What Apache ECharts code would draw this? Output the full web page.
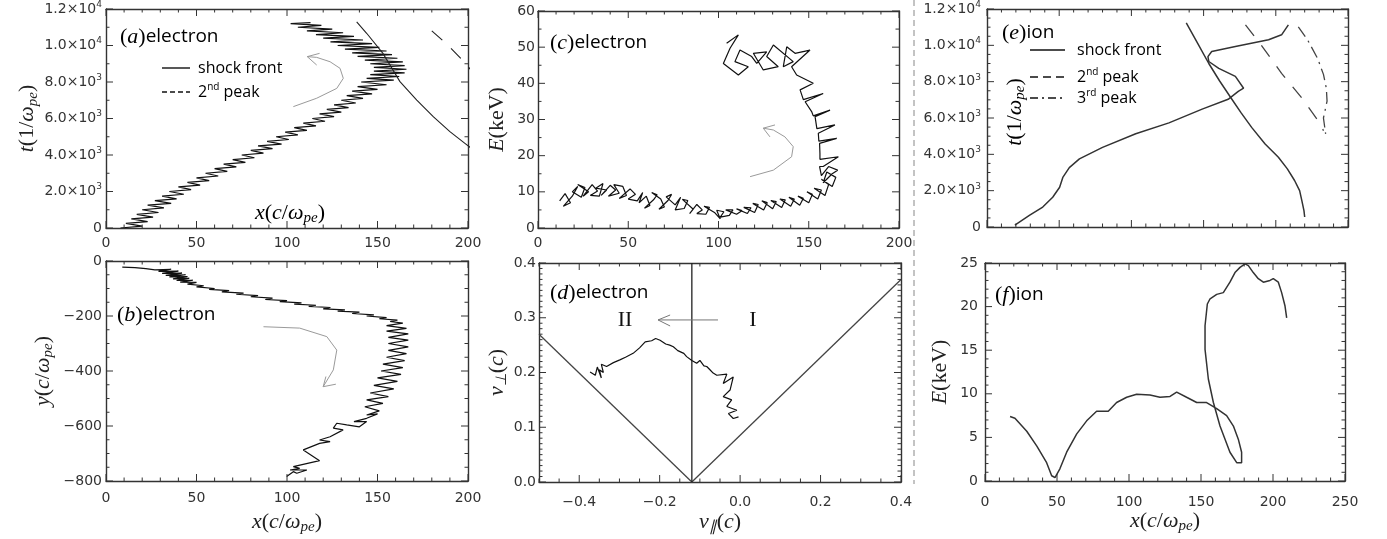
<!DOCTYPE html>
<html><head><meta charset="utf-8">
<script src="https://cdn.jsdelivr.net/npm/echarts@6/dist/echarts.min.js"></script>
<style>html,body{margin:0;padding:0;background:#fff}#c{width:1387px;height:539px}</style>
</head><body><div id="c"></div>
<script>
// ---------------- data ----------------
const electronA = [[8,0],[20,100],[11,250],[23,350],[14,500],[26,600],[17,750],[29,850],[20,1000],[32,1100],[23,1250],[36,1350],[27,1500],[39,1600],[31,1750],[43,1850],[35,2000],[47,2100],[40,2250],[52,2350],[45,2500],[57,2600],[50,2750],[62,2850],[55,3000],[67,3100],[60,3250],[72,3350],[65,3500],[77,3600],[70,3750],[82,3850],[75,4000],[87,4100],[80,4250],[92,4350],[84,4500],[97,4600],[89,4750],[101,4850],[94,5000],[106,5100],[99,5250],[111,5350],[104,5500],[116,5600],[109,5750],[121,5850],[114,6000],[126,6100],[118,6250],[130,6350],[122,6500],[134,6600],[126,6750],[138,6850],[130,7000],[142,7100],[133,7250],[147,7350],[136,7500],[150,7600],[139,7750],[155,7850],[141,8000],[159,8100],[144,8200],[162,8300],[146,8400],[165,8500],[148,8600],[166,8700],[148,8800],[165,8900],[146,9000],[164,9100],[143,9200],[161,9300],[139,9400],[158,9500],[136,9600],[155,9700],[132,9800],[151,9900],[128,10000],[147,10100],[124,10200],[142,10300],[120,10400],[137,10500],[116,10600],[131,10700],[111,10800],[125,10900],[106,11000],[119,11100],[102,11200],[113,11250]];
const shockA = [[138.5,11300],[144,10670],[153,9570],[162.4,8020],[171.7,7010],[180.8,6100],[190,5280],[198.3,4640],[204,4200]];
const peak2A = [[180,10800],[188,10100],[196,9300],[203,8500]];
const arrowA = [[103.5,6650],[116.4,7110],[127.5,7650],[131.1,8200],[129.3,8750],[123.8,9110],[116.4,9350],[111.2,9390]];
const arrowHeadA = [[118,9570],[111.2,9390],[116.4,8930]];

const electronB = [[9,-22],[16,-24],[22,-28],[27,-32],[36,-30],[29,-38],[40,-37],[31,-45],[42,-44],[33,-52],[44,-50],[35,-58],[45,-57],[37,-65],[46,-63],[39,-71],[48,-70],[41,-77],[50,-78],[45,-84],[54,-90],[50,-94],[60,-100],[57,-103],[68,-108],[64,-112],[76,-117],[72,-121],[84,-126],[80,-130],[92,-135],[88,-140],[100,-144],[96,-148],[108,-152],[104,-157],[116,-161],[112,-165],[124,-169],[120,-174],[132,-178],[128,-182],[140,-186],[136,-191],[148,-196],[144,-200],[155,-206],[151,-210],[161,-215],[157,-220],[164,-226],[155,-235],[166,-245],[155,-255],[167,-265],[156,-278],[167,-288],[156,-300],[167,-312],[156,-325],[166,-337],[155,-350],[165,-362],[153,-375],[164,-388],[152,-400],[163,-412],[150,-425],[161,-438],[148,-452],[159,-465],[146,-480],[156,-493],[144,-505],[153,-518],[143,-530],[151,-545],[144,-560],[150,-556],[144,-572],[137,-584],[144,-584],[140,-603],[133,-596],[127.5,-590],[125.6,-608],[131,-614],[123.8,-639],[118,-651],[123.8,-657],[118,-663],[109,-687],[118,-726],[103.5,-748],[107,-754],[101.7,-760],[111,-760],[105.4,-772],[103.5,-766],[99.8,-784]];
const arrowB = [[87,-239],[107,-244],[122,-275],[127.5,-324],[125.6,-396],[120,-457]];
const arrowHeadB = [[121.5,-420],[120,-457],[127,-448]];

const electronC = [[12,7.5],[15,9.5],[18,7],[14,6],[19,8.8],[22,11.5],[19,10],[24,8.5],[26,11.2],[22,12],[28,10],[25,8.8],[30,12],[33,10.2],[29,9],[34,8.8],[36,12.3],[32,11],[38,10.5],[35,9],[40,11.8],[43,10.5],[39,8.8],[45,9.6],[42,12],[47,11.5],[49,9],[45,8.2],[51,10.8],[54,9.3],[50,8],[55,7.5],[58,9.8],[56,7],[60,8.8],[62,6.2],[59,5.5],[64,7.8],[66,9.2],[63,9.8],[68,8],[70,5.8],[67,5.2],[72,7.6],[74,9.3],[71,8.6],[76,6.4],[79,8.5],[76,5],[81,5.4],[83,7.6],[80,7.9],[86,5.2],[84,4],[88,6.5],[91,5],[88,4],[93,3.8],[95,5.7],[92,6],[98,4.2],[101,2.5],[99,4.9],[103,4.5],[101,3],[106,3.5],[108,5],[104,5],[110,3.8],[113,4.8],[110,5.3],[116,4],[118,5.6],[114,5.7],[120,4.3],[122,6.5],[119,6.8],[125,5],[127,7],[124,7.5],[130,5.3],[132,7.3],[129,7.6],[135,5.7],[137,7.8],[134,8],[140,6],[142,8],[139,8.5],[145,6.3],[147,8.2],[144,8.8],[150,7],[152,9.3],[149,10],[155,8],[157,10.5],[153,11],[159,9],[161,12],[157,13.5],[163,11.5],[165,14],[160,15.5],[158,12.5],[163,15],[166,16],[161,17],[157,14.5],[156,17],[158,17],[166.4,19.7],[156.2,19],[156.2,20.6],[156,23.4],[165.5,24.8],[155.6,24],[155.3,26.2],[164.5,28.5],[154.5,27.5],[153.5,30.8],[161.8,32.6],[152.5,31],[151.6,32.2],[148,34.9],[158,37.2],[147,35.5],[145.2,38.2],[152.5,40],[143.3,42.3],[140.5,44.6],[150.7,49.2],[142.4,48.3],[137.8,50.1],[135.9,44.6],[141.4,46.0],[130.4,50.6],[126.7,47.4],[133.1,44.6],[124.8,43.7],[119.3,48.3],[126.7,48.7],[121.2,45.5],[118.4,47.4],[111.9,49.2],[109.1,46.0],[116.5,44.6],[111,42.3],[102.7,45.5],[106.4,49.7],[111,53.4],[104.5,51.1]];
const arrowC = [[117.5,14.2],[130.4,16],[140.5,19.7],[141.4,22.5],[136.8,25.2],[130.4,27.1],[124.8,27.6]];
const arrowHeadC = [[131.3,28.5],[124.8,27.6],[128.5,25.2]];

const coneLeft = [[-0.5,0.27],[-0.12,0]];
const coneRight = [[-0.12,0],[0.4,0.37]];
const shockD = [[-0.12,0],[-0.12,0.4]];
const electronD = [[-0.373,0.201],[-0.36,0.195],[-0.355,0.21],[-0.345,0.19],[-0.35,0.205],[-0.34,0.2],[-0.345,0.215],[-0.332,0.211],[-0.315,0.218],[-0.299,0.223],[-0.285,0.228],[-0.266,0.235],[-0.25,0.245],[-0.236,0.256],[-0.22,0.258],[-0.21,0.262],[-0.199,0.259],[-0.185,0.252],[-0.175,0.25],[-0.166,0.247],[-0.155,0.24],[-0.14,0.235],[-0.133,0.229],[-0.12,0.222],[-0.108,0.217],[-0.1,0.222],[-0.09,0.212],[-0.083,0.211],[-0.075,0.205],[-0.067,0.199],[-0.058,0.195],[-0.033,0.197],[-0.042,0.18],[-0.017,0.192],[-0.025,0.168],[-0.042,0.156],[-0.021,0.15],[-0.033,0.138],[-0.008,0.131],[-0.029,0.125],[-0.017,0.116],[-0.004,0.119]];
const arrowD = [[-0.055,0.296],[-0.204,0.296]];
const arrowHeadD = [[-0.174,0.305],[-0.204,0.296],[-0.174,0.285]];

const ionE = [[19.3,110],[29.6,650],[38.6,1100],[45.5,1640],[50.3,2190],[52.5,2730],[57,3270],[64,3750],[80,4380],[103,5130],[126,5730],[149,6490],[167,7030],[174,7470],[177.7,7640],[172,8290],[160.5,8730],[153.6,9110],[153,9380],[155.6,9660],[172,9930],[195,10310],[204,10580],[208.7,11130]];
const shockE = [[138,11240],[146,10100],[153.6,9000],[161,8050],[169,7100],[176,6280],[183.4,5470],[192.6,4565],[201.8,3835],[208,3200],[213,2560],[216.5,2000],[218,1470],[219.5,900],[220,550]];
const peak2E = [[179,11130],[190,10000],[204,8460],[218,7100],[231,5670],[233,5300]];
const peak3E = [[215.6,11020],[222,10300],[229,9270],[233,8400],[235,7640],[235.5,6930],[233,6000],[234.5,5130]];

const ionF = [[17.4,7.4],[20.8,7.2],[29,5.7],[36,4.0],[42.8,2.1],[46.3,0.6],[48.6,0.4],[52,1.4],[56.7,3.3],[63.7,5.4],[70.6,6.9],[77.5,8.0],[85.6,8.0],[91.4,9.0],[98.4,9.6],[105.3,9.95],[114.6,9.86],[121.5,9.6],[128.5,9.7],[133.1,10.2],[140,9.6],[147,9.0],[153.9,9.0],[160.9,8.3],[167.8,7.5],[172.5,6.3],[175.9,4.8],[178.2,3.3],[178.2,2.1],[174.8,2.1],[170.1,3.3],[163.2,6.3],[158.6,9.0],[155.1,11.7],[152.8,15.1],[152.8,17.8],[154.4,20.3],[156.3,20.9],[160.9,21.4],[165.5,21.6],[170.1,22.8],[173.6,23.9],[177.1,24.5],[180.6,24.9],[182.9,24.7],[186.3,23.9],[189.8,23.2],[193.3,22.8],[197.9,23.0],[200.2,23.2],[203.7,22.8],[206,21.6],[208.3,20.1],[209.5,18.7]];

// tick labels
const tTicks = [0,2000,4000,6000,8000,10000,12000];
const tTickLabels = ['0','{m|2.0×10}{e|3}','{m|4.0×10}{e|3}','{m|6.0×10}{e|3}','{m|8.0×10}{e|3}','{m|1.0×10}{e|4}','{m|1.2×10}{e|4}'];
const x200Ticks = [0,50,100,150,200];
const x200Labels = ['0','50','100','150','200'];
const x250Ticks = [0,50,100,150,200,250];
const x250Labels = ['0','50','100','150','200','250'];
const bYTicks = [-800,-600,-400,-200,0];
const bYLabels = ['−800','−600','−400','−200','0'];
const cYTicks = [0,10,20,30,40,50,60];
const cYLabels = ['0','10','20','30','40','50','60'];
const dXTicks = [-0.4,-0.2,0,0.2,0.4];
const dXLabels = ['−0.4','−0.2','0.0','0.2','0.4'];
const dYTicks = [0,0.1,0.2,0.3,0.4];
const dYLabels = ['0.0','0.1','0.2','0.3','0.4'];
const fYTicks = [0,5,10,15,20,25];
const fYLabels = ['0','5','10','15','20','25'];

// ---------------- styling / layout ----------------
const AX = '#333';
const LBL = {color:'#333', fontFamily:'DejaVu Sans', fontSize:14};
const labelRich = {
  m:{color:'#333', fontFamily:'DejaVu Sans', fontSize:14, lineHeight:18},
  e:{color:'#333', fontFamily:'DejaVu Sans', fontSize:9, lineHeight:9, verticalAlign:'top'}
};
const mathRich = {
  i:{fontFamily:'Liberation Serif', fontStyle:'italic', fontSize:22, lineHeight:26, color:'#222'},
  u:{fontFamily:'Liberation Serif', fontSize:22, lineHeight:26, color:'#222'},
  s:{fontFamily:'Liberation Serif', fontStyle:'italic', fontSize:15, lineHeight:15, color:'#222', verticalAlign:'bottom'}
};
const tName = '{i|t}{u|(1/}{i|ω}{s|pe}{u|)}';
const xName = '{i|x}{u|(}{i|c}{u|/}{i|ω}{s|pe}{u|)}';
const yName = '{i|y}{u|(}{i|c}{u|/}{i|ω}{s|pe}{u|)}';
const EName = '{i|E}{u|(keV)}';
const vPerpName = '{i|v}{s|⊥}{u|(}{i|c}{u|)}';
const vParName = '{i|v}{s|∥}{u|(}{i|c}{u|)}';

function fmt(ticks, labels){
  return function(v){
    for (let k=0;k<ticks.length;k++){ if (Math.abs(v-ticks[k])<1e-6*(1+Math.abs(ticks[k]))) return labels[k]; }
    return '';
  };
}
function steps(min, max, step){
  const out = [], n = Math.round((max-min)/step);
  for (let i=0;i<=n;i++) out.push(+(min+i*step).toFixed(6));
  return out;
}

const grids = [
  {left:106, top:9,   width:362, height:219},
  {left:106, top:261, width:362, height:220},
  {left:538, top:11,  width:361, height:217},
  {left:539, top:263, width:362, height:219},
  {left:987, top:8,   width:361, height:219},
  {left:985, top:263, width:360, height:218}
];

const xAxes = [], yAxes = [], tickSeries = [];
function addAxes(g, c){
  const common = {type:'value', gridIndex:g, splitLine:{show:false}, axisTick:{show:false}, minorTick:{show:false},
    axisLine:{show:true, onZero:false, lineStyle:{color:AX, width:1.4}}};
  const xLabel = c.xfmt
    ? {show:true, formatter:c.xfmt, margin:c.xmargin||8, showMinLabel:true, showMaxLabel:true, rich:labelRich, ...LBL}
    : {show:false};
  const bottom = Object.assign({}, common, {position:'bottom', min:c.xmin, max:c.xmax, interval:c.xint, axisLabel:xLabel});
  if (c.xname) Object.assign(bottom, {name:c.xname, nameLocation:'middle', nameGap:c.xgap||29, nameTextStyle:{rich:mathRich}});
  xAxes.push(bottom);
  xAxes.push(Object.assign({}, common, {position:'top', min:c.xmin, max:c.xmax, interval:c.xint, axisLabel:{show:false}}));
  const left = Object.assign({}, common, {position:'left', min:c.ymin, max:c.ymax, interval:c.yint,
    axisLabel:{show:true, formatter:c.yfmt, margin:c.ymargin||4, showMinLabel:true, showMaxLabel:true, rich:labelRich, ...LBL}});
  if (c.yname) Object.assign(left, {name:c.yname, nameLocation:'middle', nameGap:c.ygap||30, nameTextStyle:{rich:mathRich}});
  yAxes.push(left);
  yAxes.push(Object.assign({}, common, {position:'right', min:c.ymin, max:c.ymax, interval:c.yint, axisLabel:{show:false}}));

  // inward ticks on all four sides, placed through the axes' own scales
  const isMajor = (arr, v) => arr.some(m => Math.abs(m-v) < 1e-9*(1+Math.abs(m)));
  const data = [];
  c.xMajor.forEach(v => data.push([v, 0]));
  steps(c.xmin, c.xmax, c.xMinorStep).forEach(v => { if (!isMajor(c.xMajor, v)) data.push([v, 1]); });
  c.yMajor.forEach(v => data.push([v, 2]));
  steps(c.ymin, c.ymax, c.yMinorStep).forEach(v => { if (!isMajor(c.yMajor, v)) data.push([v, 3]); });
  const st = {stroke:AX, lineWidth:1};
  tickSeries.push({type:'custom', xAxisIndex:2*g, yAxisIndex:2*g, silent:true, animation:false, clip:false, z:5,
    data:data,
    renderItem:function(params, api){
      const v = api.value(0), k = api.value(1);
      const len = (k === 0 || k === 2) ? 7 : 3.5;
      if (k < 2){
        const a = api.coord([v, c.ymin]), b = api.coord([v, c.ymax]);
        return {type:'group', children:[
          {type:'line', shape:{x1:a[0], y1:a[1], x2:a[0], y2:a[1]-len}, style:st},
          {type:'line', shape:{x1:b[0], y1:b[1], x2:b[0], y2:b[1]+len}, style:st}]};
      }
      const a = api.coord([c.xmin, v]), b = api.coord([c.xmax, v]);
      return {type:'group', children:[
        {type:'line', shape:{x1:a[0], y1:a[1], x2:a[0]+len, y2:a[1]}, style:st},
        {type:'line', shape:{x1:b[0], y1:b[1], x2:b[0]-len, y2:b[1]}, style:st}]};
    }});
}
addAxes(0,{xmin:0,xmax:200,xint:50,xMajor:x200Ticks,xMinorStep:10,xfmt:fmt(x200Ticks,x200Labels),xmargin:8,
  ymin:0,ymax:12000,yint:2000,yMajor:tTicks,yMinorStep:1000,yfmt:fmt(tTicks,tTickLabels),ymargin:4,yname:tName,ygap:64});
addAxes(1,{xmin:0,xmax:200,xint:50,xMajor:x200Ticks,xMinorStep:10,xfmt:fmt(x200Ticks,x200Labels),xmargin:10,xname:xName,xgap:28,
  ymin:-800,ymax:0,yint:200,yMajor:bYTicks,yMinorStep:50,yfmt:fmt(bYTicks,bYLabels),ymargin:4,yname:yName,ygap:50});
addAxes(2,{xmin:0,xmax:200,xint:50,xMajor:x200Ticks,xMinorStep:10,xfmt:fmt(x200Ticks,x200Labels),xmargin:8,
  ymin:0,ymax:60,yint:10,yMajor:cYTicks,yMinorStep:5,yfmt:fmt(cYTicks,cYLabels),ymargin:3,yname:EName,ygap:28});
addAxes(3,{xmin:-0.5,xmax:0.4,xint:0.1,xMajor:dXTicks,xMinorStep:0.05,xfmt:fmt(dXTicks,dXLabels),xmargin:13,xname:vParName,xgap:27,
  ymin:0,ymax:0.4,yint:0.1,yMajor:dYTicks,yMinorStep:0.01,yfmt:fmt(dYTicks,dYLabels),ymargin:3,yname:vPerpName,ygap:29});
addAxes(4,{xmin:0,xmax:250,xint:50,xMajor:x250Ticks,xMinorStep:10,
  ymin:0,ymax:12000,yint:2000,yMajor:tTicks,yMinorStep:500,yfmt:fmt(tTicks,tTickLabels),ymargin:6});
addAxes(5,{xmin:0,xmax:250,xint:50,xMajor:x250Ticks,xMinorStep:10,xfmt:fmt(x250Ticks,x250Labels),xmargin:14,xname:xName,xgap:27,
  ymin:0,ymax:25,yint:5,yMajor:fYTicks,yMinorStep:1,yfmt:fmt(fYTicks,fYLabels),ymargin:7,yname:EName,ygap:32});

function line(g, data, color, width, type){
  return {type:'line', xAxisIndex:2*g, yAxisIndex:2*g, data:data, showSymbol:false, symbol:'none',
    animation:false, clip:true, silent:true,
    lineStyle:{color:color, width:width, type:type||'solid'}};
}
const series = tickSeries.concat([
  line(0, electronA, '#111', 1.2),
  line(0, shockA, '#222', 1.1),
  line(0, peak2A, '#222', 1.1, [14,12]),
  line(0, arrowA, '#9a9a9a', 1),
  line(0, arrowHeadA, '#9a9a9a', 1),
  line(1, electronB, '#111', 1.2),
  line(1, arrowB, '#9a9a9a', 1),
  line(1, arrowHeadB, '#9a9a9a', 1),
  line(2, electronC, '#111', 1.2),
  line(2, arrowC, '#9a9a9a', 1),
  line(2, arrowHeadC, '#9a9a9a', 1),
  line(3, coneLeft, '#444', 1.3),
  line(3, coneRight, '#444', 1.3),
  line(3, shockD, '#222', 1.3),
  line(3, electronD, '#111', 1.2),
  line(3, arrowD, '#777', 1),
  line(3, arrowHeadD, '#777', 1),
  line(4, ionE, '#333', 1.5),
  line(4, shockE, '#333', 1.5),
  line(4, peak2E, '#444', 1.3, [14,12]),
  line(4, peak3E, '#444', 1.3, [12,5,2,5]),
  line(5, ionF, '#333', 1.5)
]);

const panelRich = {
  p:{fontFamily:'Liberation Serif', fontSize:22, color:'#111'},
  i:{fontFamily:'Liberation Serif', fontStyle:'italic', fontSize:22, color:'#111'},
  w:{fontFamily:'Open Sans', fontSize:19, color:'#111'}
};
function panelLabel(x, y, letter, word){
  return {type:'text', x:x, y:y, z:10, style:{text:'{p|(}{i|'+letter+'}{p|)}{w|'+word+'}', rich:panelRich, verticalAlign:'middle', align:'left'}};
}
const legRich = {
  t:{fontFamily:'Open Sans', fontSize:16, color:'#111', lineHeight:20},
  s:{fontFamily:'Open Sans', fontSize:10, color:'#111', lineHeight:10, verticalAlign:'top'}
};
function legText(x, y, txt){
  return {type:'text', x:x, y:y, z:10, style:{text:txt, rich:legRich, verticalAlign:'middle', align:'left'}};
}
function legLine(x1, x2, y, dash){
  const st = {stroke:'#111', lineWidth:1.4, fill:null};
  if (dash) st.lineDash = dash;
  return {type:'polyline', z:10, shape:{points:[[x1,y],[x2,y]]}, style:st};
}
const graphics = [
  {type:'polyline', shape:{points:[[914,0],[914,484]]}, style:{stroke:'#888', lineWidth:1, lineDash:[6,4], fill:null}},
  panelLabel(120, 37, 'a', 'electron'),
  panelLabel(117, 315, 'b', 'electron'),
  panelLabel(550, 43, 'c', 'electron'),
  panelLabel(550, 293, 'd', 'electron'),
  panelLabel(1002, 33, 'e', 'ion'),
  panelLabel(995, 295, 'f', 'ion'),
  legLine(162, 190, 68), legText(198, 68, '{t|shock front}'),
  legLine(162, 190, 92, [5,3]), legText(198, 92, '{t|2}{s|nd}{t| peak}'),
  legLine(1030, 1065, 50), legText(1077, 50, '{t|shock front}'),
  legLine(1030, 1065, 77, [8,5]), legText(1077, 77, '{t|2}{s|nd}{t| peak}'),
  legLine(1030, 1065, 98, [8,4,2,4]), legText(1077, 98, '{t|3}{s|rd}{t| peak}'),
  {type:'text', x:625, y:320, z:10, style:{text:'II', font:'22px "Liberation Serif"', fill:'#111', align:'center', verticalAlign:'middle'}},
  {type:'text', x:753, y:320, z:10, style:{text:'I', font:'22px "Liberation Serif"', fill:'#111', align:'center', verticalAlign:'middle'}},
  {type:'text', x:290, y:213, z:10, style:{text:xName, rich:mathRich, align:'center', verticalAlign:'middle'}},
  {type:'text', x:1015, y:112, z:10, rotation:Math.PI/2, style:{text:tName, rich:mathRich, align:'center', verticalAlign:'middle'}}
];

const chart = echarts.init(document.getElementById('c'), null, {renderer:'canvas'});
chart.setOption({
  backgroundColor:'#fff',
  animation:false,
  grid:grids,
  xAxis:xAxes,
  yAxis:yAxes,
  series:series,
  graphic:graphics
});
</script></body></html>
